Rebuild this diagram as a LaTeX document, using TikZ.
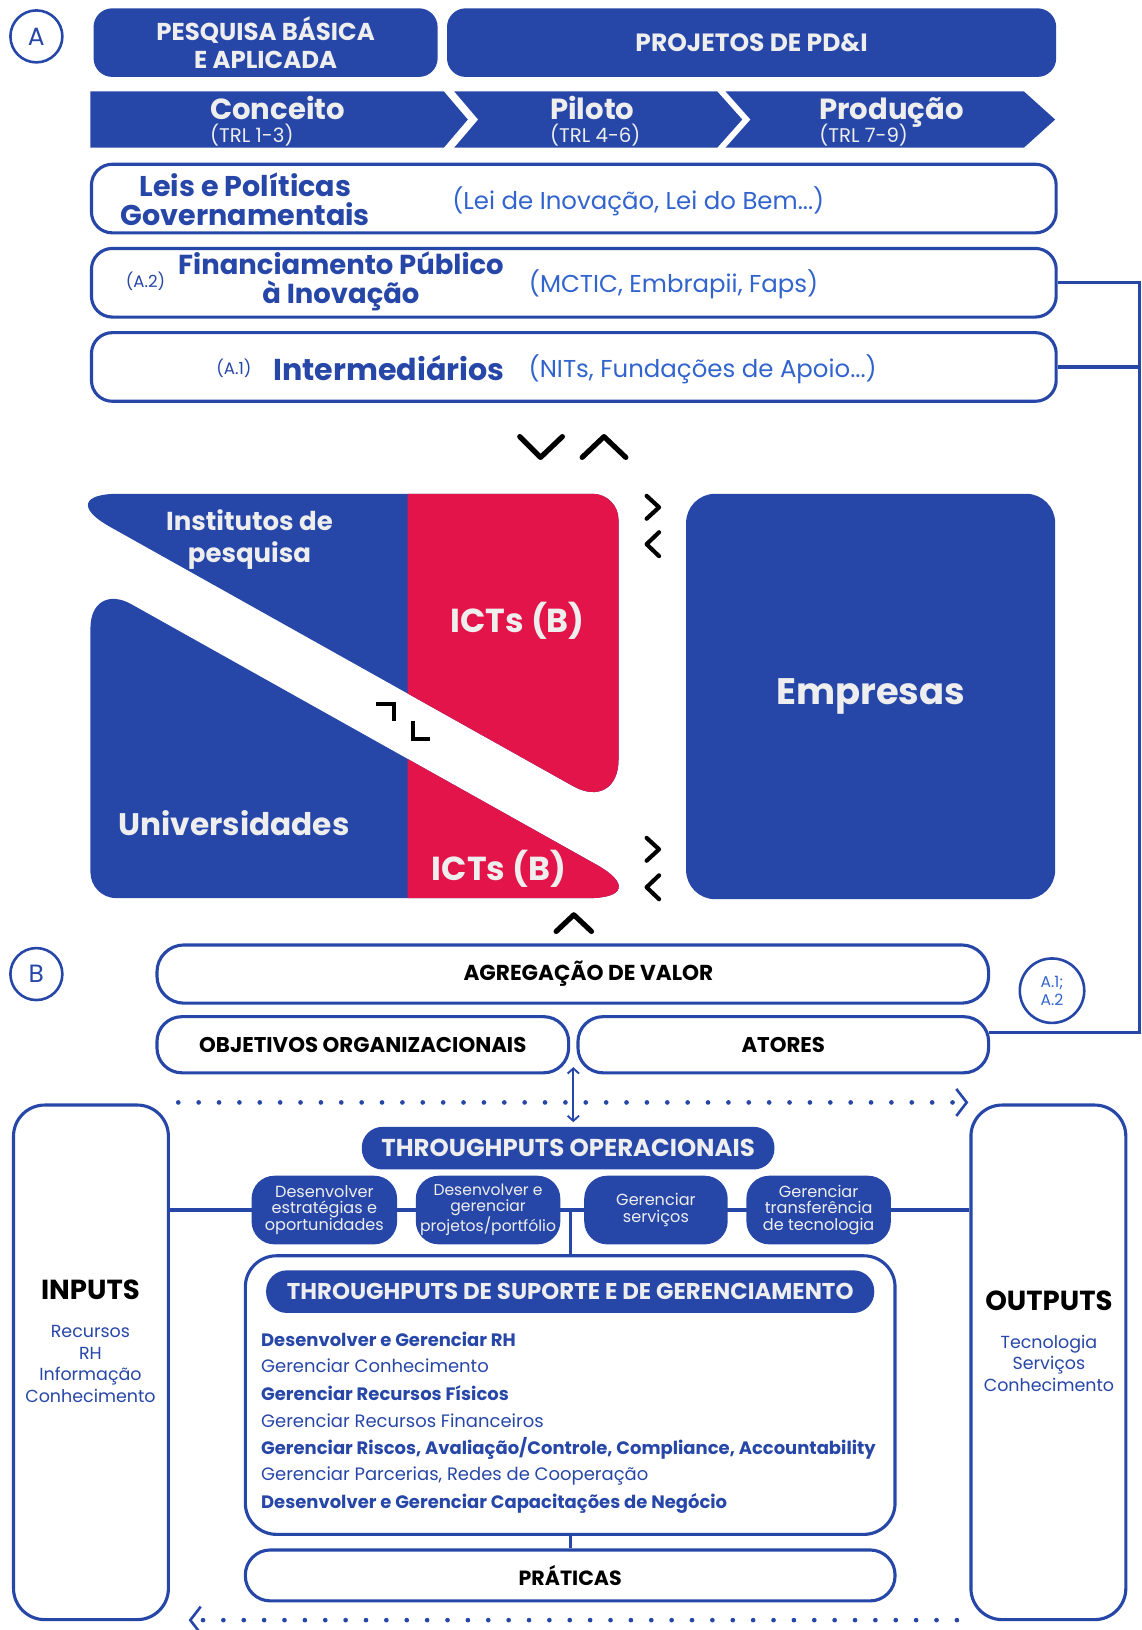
\documentclass[tikz,border=0pt]{standalone}
\usepackage{fontspec}
\setmainfont{Poppins}
\usetikzlibrary{arrows.meta,calc}
\definecolor{brandblue}{RGB}{39,71,168}
\definecolor{brandred}{RGB}{227,20,74}
\definecolor{softblue}{RGB}{50,100,205}
\definecolor{offwhite}{RGB}{238,238,238}
\newcommand\fsz[2]{\fontsize{#1}{#2}\selectfont}
% outlines of the two institution blocks (upper: institutes, lower: universities)
\newcommand\upperpath{(322.05,627.85) [rounded corners=65] -- (49.1,475) -- (322,475) [rounded corners=25] -- (595,475) -- (595,628) [rounded corners=50] -- (595,780.7) -- cycle}
\newcommand\lowerpath{(87,711.6) [rounded corners=45] -- (87,559.2) -- (359.15,711.6) [rounded corners=66] -- (631.3,864) -- (359.15,864) [rounded corners=25] -- (87,864) -- cycle}
\tikzset{
  x=1pt, y=-1pt,
  solidbox/.style={fill=brandblue, rounded corners=#1, inner sep=0, text=offwhite, align=center},
  solidbox/.default=18,
  outline/.style={draw=brandblue, line width=3, fill=white, rounded corners=#1, inner sep=0, align=center},
  outline/.default=20,
  marker/.style={circle, draw=brandblue, line width=2.5, inner sep=0, text=brandblue, align=center},
  plain/.style={inner sep=0, align=center},
  link/.style={draw=brandblue, line width=3},
  bchev/.style={draw=black, line width=5, line cap=round, line join=round},
  bmark/.style={draw=black, line width=4},
  dotflow/.style={draw=brandblue, line width=4.5, line cap=round, dash pattern=on 0pt off 19.6pt},
  stagebar/.style={fill=brandblue},
  stagetitle/.style={plain, anchor=base west, text=offwhite, font=\bfseries\fsz{28}{32}},
  stagesub/.style={plain, anchor=base west, text=offwhite, font=\fsz{19}{22}},
}
\begin{document}
\begin{tikzpicture}
\useasboundingbox (0,0) rectangle (1098,1568);
\fill[white] (0,0) rectangle (1098,1568);

% ---------- section A ----------
\node[marker, minimum size=50, font=\fsz{24}{28}] (secA) at (35,35) {A};

\node[solidbox, minimum width=331, minimum height=66, font=\bfseries\fsz{23.5}{27}] (pesq) at (255.5,41) {PESQUISA BÁSICA\\E APLICADA};
\node[solidbox, minimum width=586, minimum height=66, font=\bfseries\fsz{24}{27}] (proj) at (723,41) {PROJETOS DE PD\&I};

% maturity stages
\fill[stagebar] (87,88) -- (427,88) -- (450,115) -- (427,142) -- (87,142) -- cycle;
\fill[stagebar] (437,88) -- (690,88) -- (714,115) -- (690,142) -- (437,142) -- (460,115) -- cycle;
\fill[stagebar] (698,88) -- (985,88) -- (1015,115) -- (985,142) -- (698,142) -- (722,115) -- cycle;
\node[stagetitle] (conc) at (202,115) {Conceito};
\node[stagesub] (concT) at (202,137) {(TRL 1-3)};
\node[stagetitle] (pil) at (529,115) {Piloto};
\node[stagesub] (pilT) at (529,137) {(TRL 4-6)};
\node[stagetitle] (prod) at (788,115) {Produção};
\node[stagesub] (prodT) at (788,137) {(TRL 7-9)};

% context rows
\node[outline, minimum width=928, minimum height=66] (leis) at (552,191) {};
\node[plain, text=brandblue, font=\bfseries\fsz{27.5}{28}] (leisT) at (236,192) {Leis e Políticas\\Governamentais};
\node[plain, text=softblue, font=\fsz{23.5}{26}] (leisD) at (614,194) {(Lei de Inovação, Lei do Bem...)};

\node[outline, minimum width=928, minimum height=66] (fin) at (552,272) {};
\node[plain, text=brandblue, font=\fsz{16}{18}] (finN) at (140,271) {(A.2)};
\node[plain, text=brandblue, font=\bfseries\fsz{26.4}{28}] (finT) at (328,271) {Financiamento Público\\à Inovação};
\node[plain, text=softblue, font=\fsz{23.5}{26}] (finD) at (648,273) {(MCTIC, Embrapii, Faps)};

\node[outline, minimum width=928, minimum height=66] (inter) at (552,353) {};
\node[plain, text=brandblue, font=\fsz{16}{18}] (interN) at (225,354) {(A.1)};
\node[plain, text=brandblue, font=\bfseries\fsz{29}{32}] (interT) at (374,354) {Intermediários};
\node[plain, text=softblue, font=\fsz{23.5}{26}] (interD) at (676,355) {(NITs, Fundações de Apoio...)};

% rail linking the funding rows to the actors
\coordinate (railTop) at (1096.5,272);
\coordinate (railBot) at (1096.5,993);
\draw[link] (fin.east) -- (railTop) -- (railBot) -- (railBot -| 951,0);
\draw[link] (inter.east) -- (inter.east -| railTop);

% exchange marks
\draw[bchev] (500,420) -- (520,440) -- (541,420);
\draw[bchev] (560,440) -- (581,420) -- (602,440);

% institutions
\fill[brandblue] \upperpath;
\fill[brandblue] \lowerpath;
\begin{scope}
  \clip (392,400) rectangle (700,900);
  \fill[brandred] \upperpath;
  \fill[brandred] \lowerpath;
\end{scope}
\node[plain, text=offwhite, font=\bfseries\fsz{25}{30}] (inst) at (240,519) {Institutos de\\pesquisa};
\node[plain, text=offwhite, font=\bfseries\fsz{32}{34}] (ictA) at (498,597) {ICTs (B)};
\node[plain, text=offwhite, font=\bfseries\fsz{30}{34}] (univ) at (225,792) {Universidades};
\node[plain, text=offwhite, font=\bfseries\fsz{32}{34}] (ictB) at (480,836) {ICTs (B)};
\draw[bmark] (362,677) -- (379,677) -- (379,694);
\draw[bmark] (397,694) -- (397,711) -- (414,711);

\draw[bchev, line width=4] (622,477) -- (634,488) -- (622,499);
\draw[bchev, line width=4] (634,512) -- (622,523.5) -- (634,535);
\draw[bchev, line width=4] (622,806) -- (634,817) -- (622,828);
\draw[bchev, line width=4] (634,842) -- (622,853.5) -- (634,865);
\draw[bchev] (535,896) -- (552,880) -- (569,896);

\node[solidbox=28, minimum width=355, minimum height=390, font=\bfseries\fsz{35.5}{38}] (emp) at (837.5,670) {Empresas};

% ---------- section B ----------
\node[marker, minimum size=50, font=\fsz{24}{28}] (secB) at (35,937) {B};
\node[outline=26, minimum width=800, minimum height=56] (agreg) at (551,937) {};
\node[plain, font=\bfseries\fsz{20.8}{22}] (agregT) at (566,937) {AGREGAÇÃO DE VALOR};
\node[marker, minimum size=62, text=softblue, font=\fsz{15}{17}] (refA) at (1012,953) {A.1;\\A.2};
\node[outline=24, minimum width=396, minimum height=54, font=\bfseries\fsz{20.5}{22}] (obj) at (349,1005) {OBJETIVOS ORGANIZACIONAIS};
\node[outline=24, minimum width=395, minimum height=54, font=\bfseries\fsz{20.5}{22}] (atores) at (753.5,1005) {ATORES};

\node[outline=30, minimum width=149, minimum height=495] (inputs) at (87.5,1310.5) {};
\node[outline=30, minimum width=149, minimum height=495] (outputs) at (1008.5,1310.5) {};
\node[plain, font=\bfseries\fsz{26.5}{28}] (inT) at (87,1241) {INPUTS};
\node[plain, text=brandblue, font=\fsz{16.8}{20.7}] (inL) at (87,1312) {Recursos\\RH\\Informação\\Conhecimento};
\node[plain, font=\bfseries\fsz{26.5}{28}] (outT) at (1009,1251) {OUTPUTS};
\node[plain, text=brandblue, font=\fsz{16.8}{20.7}] (outL) at (1009,1311.5) {Tecnologia\\Serviços\\Conhecimento};

% value flow
\draw[dotflow, -{Straight Barb[length=10pt, width=26pt, line width=2.5pt]}] ($(inputs.north east)+(8,-1)$) -- ($(outputs.north west)+(-1,-1)$);
\draw[dotflow, -{Straight Barb[length=10pt, width=26pt, line width=2.5pt]}] ($(outputs.south west)+(-12,-1)$) -- ($(inputs.south east)+(18,-1)$);

% operational throughputs
\node[solidbox=20, minimum width=397, minimum height=41, font=\bfseries\fsz{23.5}{26}] (tpo) at (546.5,1104.5) {THROUGHPUTS OPERACIONAIS};
\draw[brandblue, line width=1.8, {Straight Barb[length=5pt, width=11pt]}-{Straight Barb[length=5pt, width=11pt]}] ($(obj.south east)!.5!(atores.south west)+(0,-7)$) -- ($(obj.south east)!.5!(atores.south west)+(0,46)$);

\node[outline=30, minimum width=625, minimum height=268] (support) at (548.5,1342) {};
\draw[link] (inputs.east |- 0,1164) -- (outputs.west |- 0,1164);
\draw[link] (support.north) -- (support.north |- 0,1164);
\node[solidbox=22, minimum width=140, minimum height=66, font=\fsz{15.5}{16}] (op1) at (312,1164) {Desenvolver\\estratégias e\\oportunidades};
\node[solidbox=22, minimum width=139, minimum height=66, font=\fsz{15}{15.5}] (op2) at (469.5,1164) {Desenvolver e\\gerenciar\\projetos/portfólio};
\node[solidbox=22, minimum width=138, minimum height=66, font=\fsz{15.5}{16}] (op3) at (631,1164) {Gerenciar\\serviços};
\node[solidbox=22, minimum width=139, minimum height=66, font=\fsz{15.5}{16}] (op4) at (787.5,1164) {Gerenciar\\transferência\\de tecnologia};

% support and management throughputs
\node[solidbox=20, minimum width=585, minimum height=41, font=\bfseries\fsz{22}{24}] (tps) at (548.5,1242.5) {THROUGHPUTS DE SUPORTE E DE GERENCIAMENTO};
\node[plain, anchor=west, text=brandblue, font=\bfseries\fsz{17.3}{20}] (li1) at (251,1288) {Desenvolver e Gerenciar RH};
\node[plain, anchor=west, text=brandblue, font=\fsz{17.3}{20}] (li2) at (251,1314) {Gerenciar Conhecimento};
\node[plain, anchor=west, text=brandblue, font=\bfseries\fsz{17.3}{20}] (li3) at (251,1340) {Gerenciar Recursos Físicos};
\node[plain, anchor=west, text=brandblue, font=\fsz{17.3}{20}] (li4) at (251,1367) {Gerenciar Recursos Financeiros};
\node[plain, anchor=west, text=brandblue, font=\bfseries\fsz{17.3}{20}] (li5) at (251,1393) {Gerenciar Riscos, Avaliação/Controle, Compliance, Accountability};
\node[plain, anchor=west, text=brandblue, font=\fsz{17.3}{20}] (li6) at (251,1420) {Gerenciar Parcerias, Redes de Cooperação};
\node[plain, anchor=west, text=brandblue, font=\bfseries\fsz{17.3}{20}] (li7) at (251,1446) {Desenvolver e Gerenciar Capacitações de Negócio};

\node[outline=24, minimum width=625, minimum height=49, font=\bfseries\fsz{19.8}{22}] (prat) at (548.5,1515.5) {PRÁTICAS};
\draw[link] (support.south) -- (prat.north);
\end{tikzpicture}
\end{document}
